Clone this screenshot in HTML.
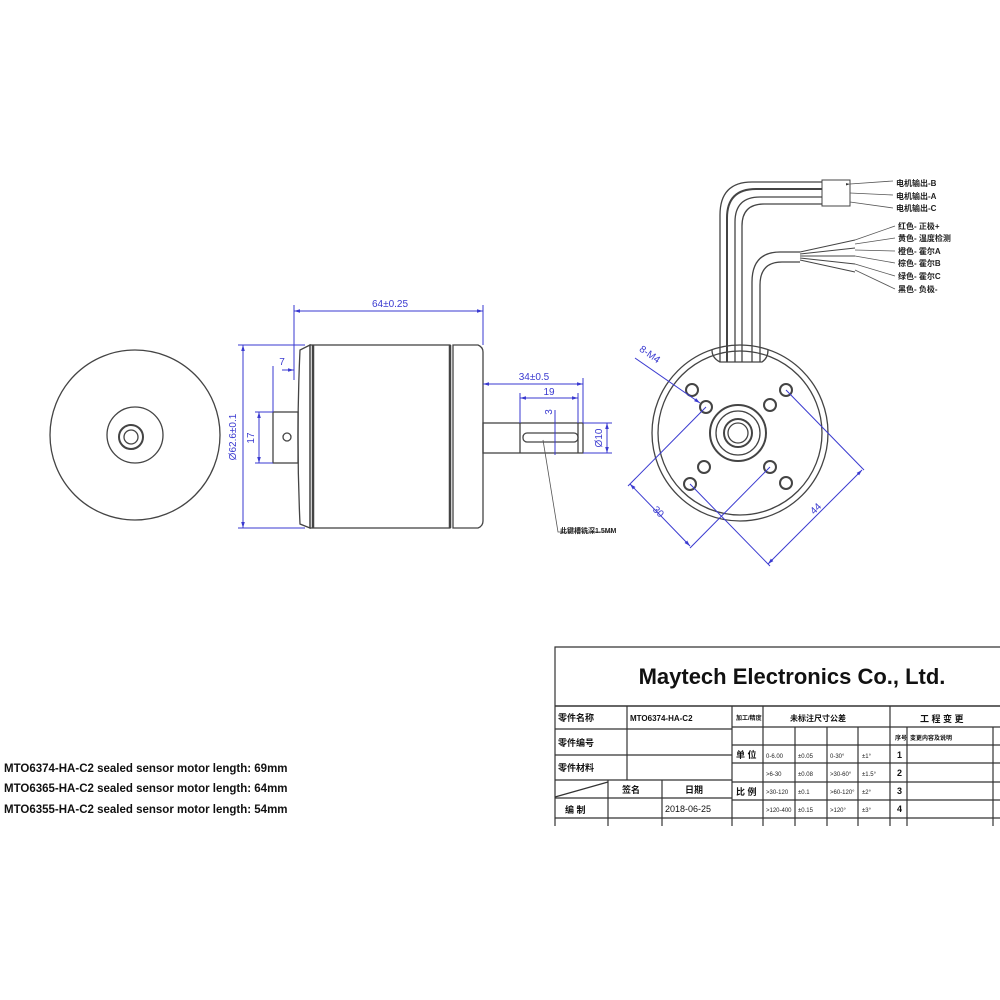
<!DOCTYPE html>
<html><head><meta charset="utf-8"><style>
html,body{margin:0;padding:0;background:#fff;}
svg{display:block;}
text{font-family:"Liberation Sans","Noto Sans CJK SC",sans-serif;}
</style></head><body>
<svg width="1000" height="1000" viewBox="0 0 1000 1000" xmlns="http://www.w3.org/2000/svg">
<defs>
<marker id="a" viewBox="0 0 10 10" refX="10" refY="5" markerWidth="6" markerHeight="6" orient="auto-start-reverse"><path d="M0,2 L10,5 L0,8z" fill="#3a3ad0"/></marker>
<marker id="k" viewBox="0 0 10 10" refX="10" refY="5" markerWidth="5" markerHeight="5" orient="auto"><path d="M0,2 L10,5 L0,8z" fill="#333"/></marker>
</defs>
<g fill="none" stroke="#444" stroke-width="1.3">
<!-- left end view -->
<circle cx="135" cy="435" r="85"/>
<circle cx="135" cy="435" r="28"/>
<circle cx="131" cy="437" r="12" stroke-width="2"/>
<circle cx="131" cy="437" r="7"/>
<!-- side view -->
<rect x="273" y="412" width="25" height="51"/>
<circle cx="287" cy="437" r="4"/>
<path d="M310,345 L300,350 Q296,437 300,524 L310,528 Z"/>
<rect x="310" y="345" width="140" height="183"/>
<line x1="313" y1="345" x2="313" y2="528" stroke-width="2.5"/>
<line x1="450" y1="345" x2="450" y2="528" stroke-width="2.5"/>
<path d="M453,345 L478,345 Q483,347 483,352 L483,521 Q483,526 478,528 L453,528 Z"/>
<rect x="483" y="423" width="100" height="30"/>
<line x1="520" y1="423" x2="520" y2="453"/>
<line x1="578" y1="423" x2="578" y2="453"/>
<rect x="523" y="433" width="55" height="9" rx="4"/>
<!-- right end view -->
<circle cx="740" cy="433" r="88"/>
<circle cx="740" cy="433" r="82"/>
<circle cx="738" cy="433" r="28" stroke-width="2"/>
<circle cx="738" cy="433" r="22"/>
<circle cx="738" cy="433" r="14" stroke-width="2"/>
<circle cx="738" cy="433" r="10"/>
<g stroke-width="2">
<circle cx="692" cy="390" r="6"/><circle cx="706" cy="407" r="6"/>
<circle cx="770" cy="405" r="6"/><circle cx="786" cy="390" r="6"/>
<circle cx="704" cy="467" r="6"/><circle cx="690" cy="484" r="6"/>
<circle cx="770" cy="467" r="6"/><circle cx="786" cy="483" r="6"/>
</g>
<path d="M712,350 Q712,358 720,362 L762,362 Q768,358 768,350"/>
<!-- cables -->
<path d="M720,362 L720,215 Q720,182 752,182 L822,182"/>
<path d="M727,362 L727,218 Q727,189 756,189 L822,189" stroke-width="2"/>
<path d="M735,362 L735,222 Q735,197 760,197 L822,197"/>
<path d="M742,362 L742,226 Q742,204 764,204 L822,204"/>
<path d="M752,362 L752,282 Q752,252 780,252 L800,252"/>
<path d="M760,362 L760,285 Q760,262 782,262 L800,262"/>
<rect x="822" y="180" width="28" height="26" stroke-width="1"/>
<path d="M800,252 L855,240 M800,254 L855,248 M800,256 L855,256 M800,258 L855,264 M800,260 L855,272" stroke-width="1"/>
</g>
<g stroke="#555" stroke-width="0.8" fill="none">
<path d="M850,184 L893,181 M850,193 L893,195 M850,202 L893,208" marker-start="url(#k)"/>
<path d="M855,240 L895,226 M855,244 L895,238 M855,250 L895,251 M855,256 L895,263 M855,264 L895,276 M855,270 L895,289"/>
<path d="M543,440 L558,532 L612,532"/>
</g>
<g font-size="8" fill="#222" font-weight="bold">
<text x="896" y="186">电机输出-B</text>
<text x="896" y="199">电机输出-A</text>
<text x="896" y="211">电机输出-C</text>
<text x="898" y="229">红色- 正极+</text>
<text x="898" y="241">黄色- 温度检测</text>
<text x="898" y="254">橙色- 霍尔A</text>
<text x="898" y="266">棕色- 霍尔B</text>
<text x="898" y="279">绿色- 霍尔C</text>
<text x="898" y="292">黑色- 负极-</text>
<text x="560" y="533" font-size="7">此键槽铣深1.5MM</text>
</g>
<!-- blue dimensions -->
<g stroke="#3a3ad0" stroke-width="1" fill="none">
<line x1="294" y1="305" x2="294" y2="380"/><line x1="483" y1="305" x2="483" y2="345"/>
<line x1="294" y1="311" x2="483" y2="311" marker-start="url(#a)" marker-end="url(#a)"/>
<line x1="238" y1="345" x2="305" y2="345"/><line x1="238" y1="528" x2="305" y2="528"/>
<line x1="243" y1="345" x2="243" y2="528" marker-start="url(#a)" marker-end="url(#a)"/>
<line x1="255" y1="412" x2="273" y2="412"/><line x1="255" y1="463" x2="273" y2="463"/>
<line x1="259" y1="412" x2="259" y2="463" marker-start="url(#a)" marker-end="url(#a)"/>
<line x1="273" y1="366" x2="273" y2="412"/>
<line x1="282" y1="370" x2="294" y2="370" marker-end="url(#a)"/>
<line x1="483" y1="384" x2="583" y2="384" marker-start="url(#a)" marker-end="url(#a)"/>
<line x1="583" y1="378" x2="583" y2="423"/>
<line x1="520" y1="393" x2="520" y2="423"/>
<line x1="578" y1="393" x2="578" y2="423"/>
<line x1="520" y1="398" x2="578" y2="398" marker-start="url(#a)" marker-end="url(#a)"/>
<line x1="555" y1="410" x2="555" y2="455"/>
<line x1="583" y1="423" x2="612" y2="423"/><line x1="583" y1="453" x2="612" y2="453"/>
<line x1="607" y1="423" x2="607" y2="453" marker-start="url(#a)" marker-end="url(#a)"/>
<line x1="635" y1="358" x2="700" y2="403" marker-end="url(#a)"/>
<line x1="706" y1="407" x2="628" y2="486"/>
<line x1="770" y1="467" x2="690" y2="548"/>
<line x1="630" y1="484" x2="690" y2="546" marker-start="url(#a)" marker-end="url(#a)"/>
<line x1="786" y1="390" x2="864" y2="470"/>
<line x1="690" y1="484" x2="770" y2="566"/>
<line x1="862" y1="470" x2="768" y2="564" marker-start="url(#a)" marker-end="url(#a)"/>
</g>
<g fill="#3a3ad0" font-size="10">
<text x="390" y="307" text-anchor="middle">64±0.25</text>
<text x="282" y="365" text-anchor="middle">7</text>
<text x="236" y="437" text-anchor="middle" transform="rotate(-90 236 437)">Ø62.6±0.1</text>
<text x="254" y="438" text-anchor="middle" transform="rotate(-90 254 438)">17</text>
<text x="534" y="380" text-anchor="middle">34±0.5</text>
<text x="549" y="395" text-anchor="middle">19</text>
<text x="552" y="412" text-anchor="middle" transform="rotate(-90 552 412)">3</text>
<text x="602" y="438" text-anchor="middle" transform="rotate(-90 602 438)">Ø10</text>
<text x="648" y="357" text-anchor="middle" transform="rotate(35 648 357)">8-M4</text>
<text x="656" y="514" text-anchor="middle" transform="rotate(45 656 514)">30</text>
<text x="818" y="511" text-anchor="middle" transform="rotate(-45 818 511)">44</text>
</g>
<!-- bottom-left text -->
<g font-size="11.5" font-weight="bold" fill="#111">
<text x="4" y="772">MTO6374-HA-C2 sealed sensor motor length: 69mm</text>
<text x="4" y="792">MTO6365-HA-C2 sealed sensor motor length: 64mm</text>
<text x="4" y="813">MTO6355-HA-C2 sealed sensor motor length: 54mm</text>
</g>
<!-- title block -->
<g stroke="#333" fill="none" stroke-width="1.2">
<path d="M555,826 L555,647 L1000,647"/>
<line x1="555" y1="706" x2="1000" y2="706" stroke-width="1.6"/>
<line x1="555" y1="729" x2="732" y2="729"/>
<line x1="555" y1="755" x2="732" y2="755"/>
<line x1="555" y1="780" x2="732" y2="780"/>
<line x1="555" y1="798" x2="732" y2="798"/>
<line x1="555" y1="818" x2="1000" y2="818"/>
<line x1="627" y1="706" x2="627" y2="780"/>
<line x1="608" y1="780" x2="608" y2="826"/>
<line x1="662" y1="780" x2="662" y2="826"/>
<line x1="555" y1="797" x2="608" y2="782"/>
<line x1="732" y1="706" x2="732" y2="826"/>
<line x1="763" y1="706" x2="763" y2="826"/>
<line x1="795" y1="727" x2="795" y2="826"/>
<line x1="827" y1="727" x2="827" y2="826"/>
<line x1="858" y1="727" x2="858" y2="826"/>
<line x1="890" y1="706" x2="890" y2="826"/>
<line x1="907" y1="727" x2="907" y2="826"/>
<line x1="993" y1="727" x2="993" y2="826"/>
<line x1="732" y1="727" x2="1000" y2="727"/>
<line x1="732" y1="745" x2="1000" y2="745"/>
<line x1="732" y1="763" x2="1000" y2="763"/>
<line x1="732" y1="782" x2="1000" y2="782"/>
<line x1="732" y1="800" x2="1000" y2="800"/>
</g>
<text x="792" y="684" text-anchor="middle" font-size="22" font-weight="bold" fill="#111">Maytech Electronics Co., Ltd.</text>
<g font-size="9" font-weight="bold" fill="#111">
<text x="558" y="721">零件名称</text>
<text x="558" y="746">零件编号</text>
<text x="558" y="771">零件材料</text>
<text x="630" y="721" font-size="8">MTO6374-HA-C2</text>
<text x="622" y="793">签名</text>
<text x="685" y="793">日期</text>
<text x="565" y="813">编 制</text>
<text x="665" y="812" font-weight="normal">2018-06-25</text>
<text x="790" y="721" font-size="8">未标注尺寸公差</text>
<text x="920" y="722">工 程 变 更</text>
<text x="736" y="720" font-size="6">加工/精度</text>
<text x="736" y="758">单 位</text>
<text x="736" y="795">比 例</text>
<text x="895" y="740" font-size="6">序号</text>
<text x="910" y="740" font-size="6">变更内容及说明</text>
<text x="897" y="758">1</text><text x="897" y="776">2</text><text x="897" y="794">3</text><text x="897" y="812">4</text>
</g>
<g font-size="6" fill="#222">
<text x="766" y="758">0-6.00</text><text x="798" y="758">±0.05</text><text x="830" y="758">0-30°</text><text x="862" y="758">±1°</text>
<text x="766" y="776">&gt;6-30</text><text x="798" y="776">±0.08</text><text x="830" y="776">&gt;30-60°</text><text x="862" y="776">±1.5°</text>
<text x="766" y="794">&gt;30-120</text><text x="798" y="794">±0.1</text><text x="830" y="794">&gt;60-120°</text><text x="862" y="794">±2°</text>
<text x="766" y="812">&gt;120-400</text><text x="798" y="812">±0.15</text><text x="830" y="812">&gt;120°</text><text x="862" y="812">±3°</text>
</g>
</svg>
</body></html>
